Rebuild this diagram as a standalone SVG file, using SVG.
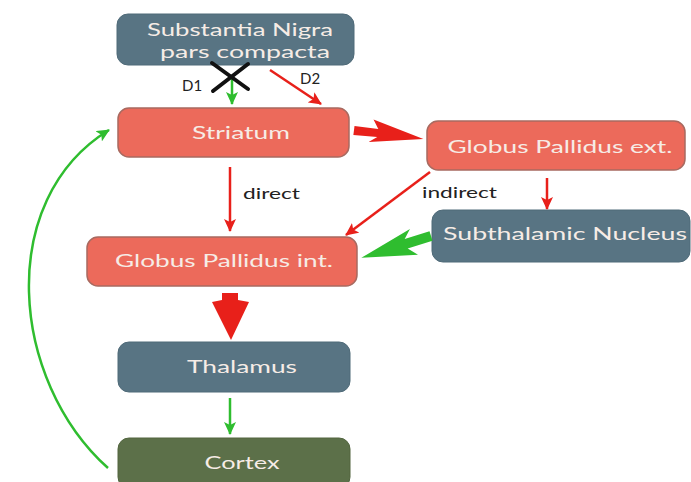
<svg xmlns="http://www.w3.org/2000/svg" width="691" height="482" viewBox="0 0 691 482">
<defs>
<style>
.lbl{font-family:Lato,"Open Sans","Liberation Sans",sans-serif;font-size:18px;fill:#f6ece6;text-anchor:middle}
.sm{font-family:Lato,"Open Sans","Liberation Sans",sans-serif;font-size:15px;fill:#222}
.sal{fill:#ec6a5b;stroke:#a86a60;stroke-width:1.5}
.blu{fill:#587483;stroke:#4f6a78;stroke-width:1}
.grn{fill:#5c7049;stroke:#52653f;stroke-width:1}
.red{stroke:#e8201a;stroke-width:2.5;fill:none}
.gr{stroke:#2fbd2f;stroke-width:2.5;fill:none}
</style>
<marker id="mr" markerUnits="userSpaceOnUse" markerWidth="14" markerHeight="12" refX="12" refY="6" orient="auto">
<path d="M0,0 L13,6 L0,12 L3,6 z" fill="#e8201a"/>
</marker>
<marker id="mg" markerUnits="userSpaceOnUse" markerWidth="14" markerHeight="12" refX="12" refY="6" orient="auto">
<path d="M0,0 L13,6 L0,12 L3,6 z" fill="#2fbd2f"/>
</marker>
</defs>
<rect width="691" height="482" fill="#ffffff"/>

<g id="snpc">
<rect class="blu" x="117" y="14" width="237" height="51" rx="11"/>
<text class="lbl" x="240" y="36" textLength="186" lengthAdjust="spacingAndGlyphs">Substantia Nigra</text>
<text class="lbl" x="245" y="58" textLength="170" lengthAdjust="spacingAndGlyphs">pars compacta</text>
</g>
<g id="striatum">
<rect class="sal" x="118" y="108" width="231" height="49" rx="11"/>
<text class="lbl" x="241" y="139" textLength="98" lengthAdjust="spacingAndGlyphs">Striatum</text>
</g>
<g id="gpe">
<rect class="sal" x="427" y="121" width="258" height="49" rx="11"/>
<text class="lbl" x="560" y="153" textLength="225" lengthAdjust="spacingAndGlyphs">Globus Pallidus ext.</text>
</g>
<g id="stn">
<rect class="blu" x="432" y="210" width="258" height="52" rx="11"/>
<text class="lbl" x="565" y="240" textLength="244" lengthAdjust="spacingAndGlyphs">Subthalamic Nucleus</text>
</g>
<g id="gpi">
<rect class="sal" x="87" y="237" width="270" height="49" rx="11"/>
<text class="lbl" x="224" y="267" textLength="218" lengthAdjust="spacingAndGlyphs">Globus Pallidus int.</text>
</g>
<g id="thalamus">
<rect class="blu" x="118" y="342" width="232" height="50" rx="11"/>
<text class="lbl" x="242" y="373" textLength="110" lengthAdjust="spacingAndGlyphs">Thalamus</text>
</g>
<g id="cortex">
<rect class="grn" x="118" y="438" width="232" height="50" rx="11"/>
<text class="lbl" x="242" y="469" textLength="75" lengthAdjust="spacingAndGlyphs">Cortex</text>
</g>

<g id="connectors">
<line class="gr" x1="232" y1="79" x2="232" y2="104" marker-end="url(#mg)"/>
<g stroke="#111" stroke-width="4" stroke-linecap="round">
<line x1="212" y1="63" x2="248" y2="89"/>
<line x1="248" y1="64" x2="213" y2="91"/>
</g>
<text class="sm" x="182" y="91">D1</text>
<line class="red" x1="270" y1="70" x2="321" y2="104" marker-end="url(#mr)"/>
<text class="sm" x="300" y="84">D2</text>

<polygon fill="#e8201a" points="0,-4 24,-4 18,-13 70,0 16,10 24,4 0,5" transform="translate(354,130) rotate(7.4)"/>

<line class="red" x1="230" y1="167" x2="230" y2="231" marker-end="url(#mr)"/>
<text class="sm" x="243" y="199" textLength="57" lengthAdjust="spacingAndGlyphs">direct</text>

<line class="red" x1="430" y1="172" x2="346" y2="235" marker-end="url(#mr)"/>
<text class="sm" x="422" y="198" textLength="75" lengthAdjust="spacingAndGlyphs">indirect</text>

<line class="red" x1="547" y1="178" x2="547" y2="209" marker-end="url(#mr)"/>

<polygon fill="#2fbd2f" points="0,-5 26,-5 18,-14 73,0 18,13 26,5 0,5" transform="translate(431,236) rotate(162.6)"/>

<polygon fill="#e8201a" points="222,293 238,293 238,300 249,302 231,340 212,302 222,300"/>

<line class="gr" x1="230" y1="398" x2="230" y2="434" marker-end="url(#mg)"/>

<path class="gr" d="M108,468 C10,380 -5,200 109,130" marker-end="url(#mg)"/>
</g>
</svg>
